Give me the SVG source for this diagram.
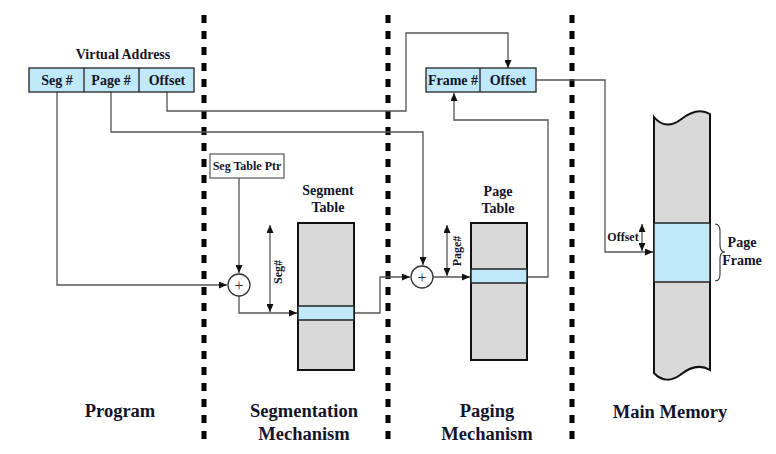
<svg xmlns="http://www.w3.org/2000/svg" width="776" height="454" viewBox="0 0 776 454">
<style>
text{font-family:'Liberation Serif','Times New Roman','DejaVu Serif',serif;font-weight:bold;fill:#14142a;text-anchor:middle}
.lbl{font-size:18.5px}
.t14{font-size:14px}
.t13{font-size:14px}
.t12{font-size:12px}
.sep{stroke:#000;stroke-width:5;stroke-dasharray:8 8;fill:none}
.conn{stroke:#555;stroke-width:1.3;fill:none}
.blue{fill:#bfe8f8;stroke:#222;stroke-width:1.3}
.tbl{fill:#d9d9d9;stroke:#111;stroke-width:2}
.hl{fill:#bfe8f8;stroke:#222;stroke-width:1.5}
</style>
<defs>
<marker id="ah" markerWidth="8" markerHeight="7" refX="8" refY="3.5" orient="auto-start-reverse" markerUnits="userSpaceOnUse">
<path d="M0,0 L8,3.5 L0,7 z" fill="#111"/>
</marker>
</defs>
<rect width="776" height="454" fill="#fff"/>

<g id="separators">
<line class="sep" x1="204" y1="15" x2="204" y2="447"/>
<line class="sep" x1="388" y1="15" x2="388" y2="447"/>
<line class="sep" x1="572" y1="15" x2="572" y2="447"/>
</g>

<g id="connectors">
<path class="conn" d="M57,92 V285 H227" marker-end="url(#ah)"/>
<path class="conn" d="M111,92 V132 H423 V265" marker-end="url(#ah)"/>
<path class="conn" d="M167,92 V111 H406 V33 H508 V68" marker-end="url(#ah)"/>
<path class="conn" d="M239,178 V273" marker-end="url(#ah)"/>
<path class="conn" d="M239,296 V313 H297" marker-end="url(#ah)"/>
<path class="conn" d="M354,313 H380 V277 H410" marker-end="url(#ah)"/>
<path class="conn" d="M433,277 H470" marker-end="url(#ah)"/>
<path class="conn" d="M527,277 H548 V120 H454 V93" marker-end="url(#ah)"/>
<path class="conn" d="M536,80 H605 V252 H653" marker-end="url(#ah)"/>
<path class="conn" d="M270,225 V312" marker-start="url(#ah)" marker-end="url(#ah)"/>
<path class="conn" d="M447,225 V276" marker-start="url(#ah)" marker-end="url(#ah)"/>
<path class="conn" d="M642,224 V251" marker-start="url(#ah)" marker-end="url(#ah)"/>
</g>

<g id="virtual-address">
<text class="t14" x="123" y="59">Virtual Address</text>
<rect class="blue" x="29" y="68" width="165" height="24"/>
<line x1="84" y1="68" x2="84" y2="92" stroke="#222" stroke-width="1.3"/>
<line x1="139" y1="68" x2="139" y2="92" stroke="#222" stroke-width="1.3"/>
<text class="t14" x="57" y="85">Seg #</text>
<text class="t14" x="111" y="85">Page #</text>
<text class="t14" x="167" y="85">Offset</text>
</g>

<g id="frame-offset">
<rect class="blue" x="426" y="68" width="110" height="24"/>
<line x1="480" y1="68" x2="480" y2="92" stroke="#222" stroke-width="1.3"/>
<text class="t14" x="453" y="85">Frame #</text>
<text class="t14" x="508" y="85">Offset</text>
</g>

<g id="seg-table-ptr">
<rect x="210" y="154" width="74" height="24" fill="#fff" stroke="#555" stroke-width="1.2"/>
<text class="t12" x="247" y="170">Seg Table Ptr</text>
</g>

<g id="adder-seg">
<circle cx="239" cy="285" r="11" fill="#fff" stroke="#333" stroke-width="1.3"/>
<text x="239" y="291" style="font-size:16px;font-weight:normal;fill:#333">+</text>
</g>

<g id="segment-table">
<text class="t13" x="328" y="195">Segment</text>
<text class="t13" x="328" y="212">Table</text>
<rect class="tbl" x="298" y="223" width="56" height="147"/>
<rect class="hl" x="298" y="306" width="56" height="14"/>
<text class="t12" transform="translate(282,272) rotate(-90)">Seg#</text>
</g>

<g id="adder-page">
<circle cx="422" cy="277" r="11" fill="#fff" stroke="#333" stroke-width="1.3"/>
<text x="422" y="283" style="font-size:16px;font-weight:normal;fill:#333">+</text>
</g>

<g id="page-table">
<text class="t13" x="498" y="196">Page</text>
<text class="t13" x="498" y="213">Table</text>
<rect class="tbl" x="471" y="223" width="56" height="137"/>
<rect class="hl" x="471" y="269" width="56" height="14"/>
<text class="t12" transform="translate(461,251) rotate(-90)">Page#</text>
</g>

<g id="main-memory">
<path d="M654,117 C662,127 672,126 680,120 C690,112 700,108 710,114 V370 C700,364 690,367 680,375 C672,381 662,382 654,373 Z" fill="#d9d9d9" stroke="#111" stroke-width="2"/>
<rect class="hl" x="654" y="223" width="56" height="59"/>
<text class="t12" x="623" y="241">Offset</text>
<path d="M715,224 Q720,224 720,231 V245 Q720,252 725,252 Q720,252 720,259 V274 Q720,281 715,281" fill="none" stroke="#333" stroke-width="1.1"/>
<text class="t14" x="742" y="247">Page</text>
<text class="t14" x="742" y="265">Frame</text>
</g>

<g id="labels">
<text class="lbl" x="120" y="417">Program</text>
<text class="lbl" x="304" y="417">Segmentation</text>
<text class="lbl" x="304" y="440">Mechanism</text>
<text class="lbl" x="487" y="417">Paging</text>
<text class="lbl" x="487" y="440">Mechanism</text>
<text class="lbl" x="670" y="418">Main Memory</text>
</g>
</svg>
